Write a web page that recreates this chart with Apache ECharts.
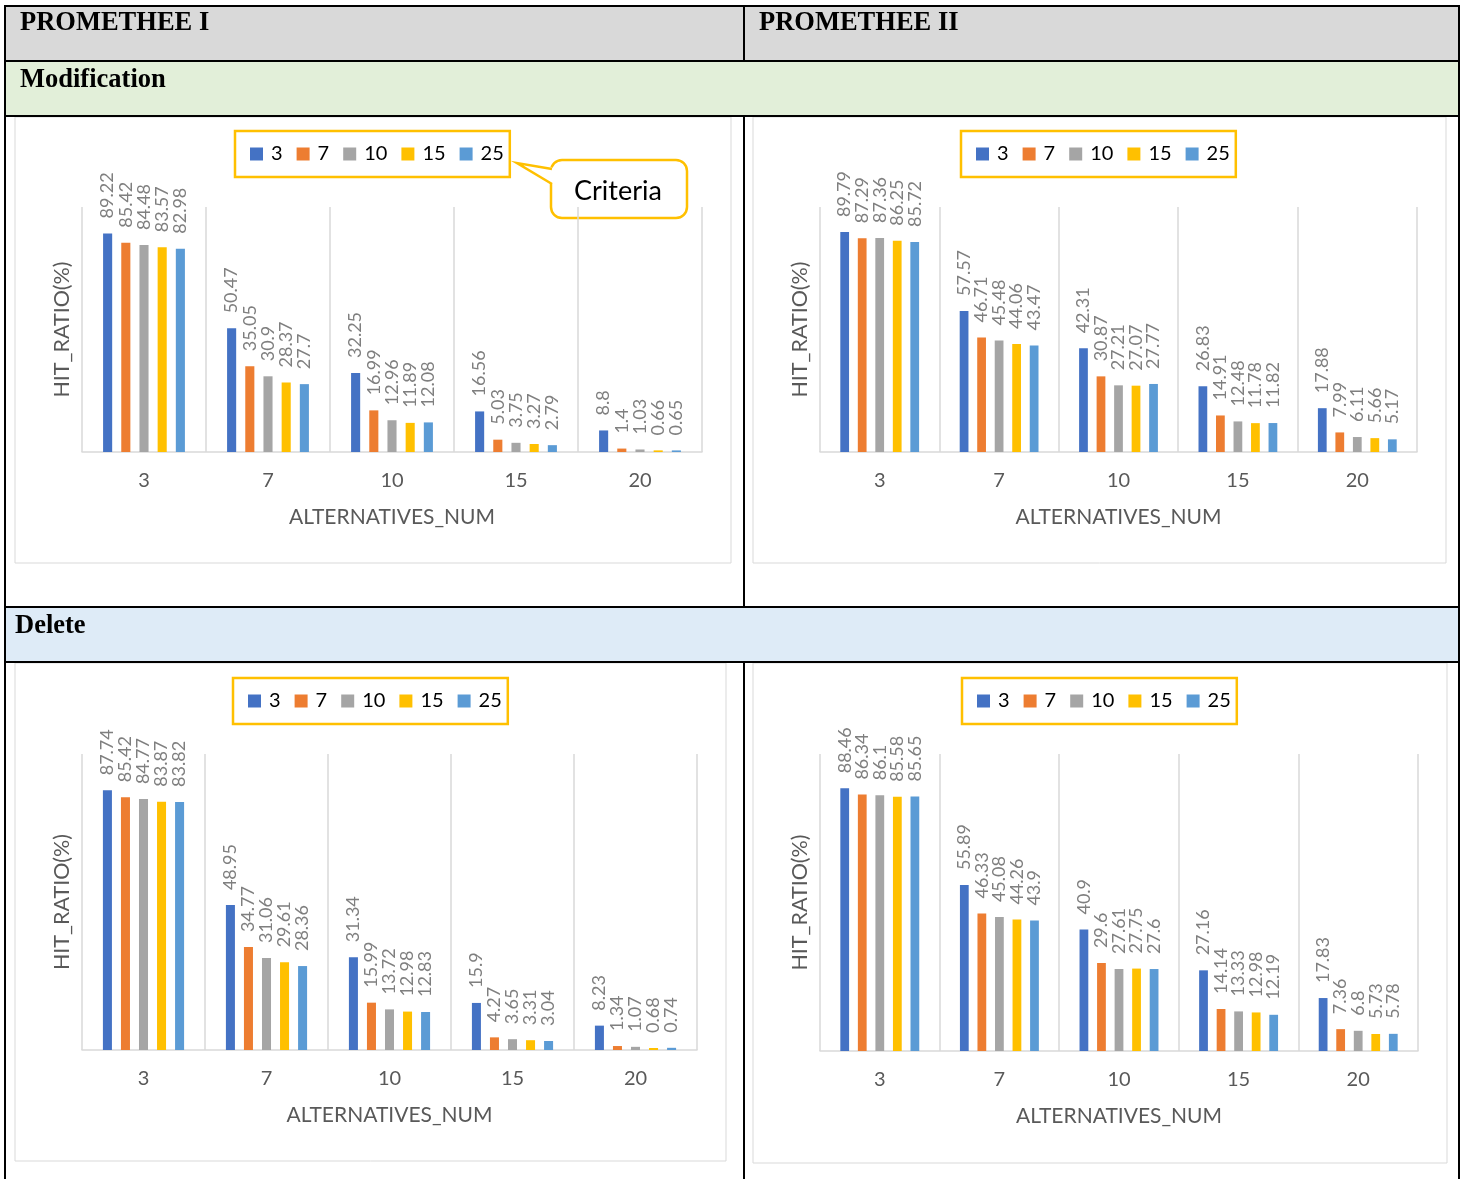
<!DOCTYPE html>
<html>
<head>
<meta charset="utf-8">
<script src="https://cdn.jsdelivr.net/npm/echarts@6/dist/echarts.min.js"></script>
<style>
  html, body { margin: 0; padding: 0; background: #ffffff; }
  #chart { width: 1465px; height: 1179px; }
</style>
</head>
<body>
<div id="chart"></div>
<script>
// Alternative counts on the x axis and criteria counts (one series each)
const categories = ['3', '7', '10', '15', '20'];
const criteria = ['3', '7', '10', '15', '25'];

// PROMETHEE I – Modification (hit ratio %, one array per criteria count)
const p1Mod3  = [89.22, 50.47, 32.25, 16.56, 8.8];
const p1Mod7  = [85.42, 35.05, 16.99, 5.03, 1.4];
const p1Mod10 = [84.48, 30.9, 12.96, 3.75, 1.03];
const p1Mod15 = [83.57, 28.37, 11.89, 3.27, 0.66];
const p1Mod25 = [82.98, 27.7, 12.08, 2.79, 0.65];

// PROMETHEE II – Modification
const p2Mod3  = [89.79, 57.57, 42.31, 26.83, 17.88];
const p2Mod7  = [87.29, 46.71, 30.87, 14.91, 7.99];
const p2Mod10 = [87.36, 45.48, 27.21, 12.48, 6.11];
const p2Mod15 = [86.25, 44.06, 27.07, 11.78, 5.66];
const p2Mod25 = [85.72, 43.47, 27.77, 11.82, 5.17];

// PROMETHEE I – Delete
const p1Del3  = [87.74, 48.95, 31.34, 15.9, 8.23];
const p1Del7  = [85.42, 34.77, 15.99, 4.27, 1.34];
const p1Del10 = [84.77, 31.06, 13.72, 3.65, 1.07];
const p1Del15 = [83.87, 29.61, 12.98, 3.31, 0.68];
const p1Del25 = [83.82, 28.36, 12.83, 3.04, 0.74];

// PROMETHEE II – Delete
const p2Del3  = [88.46, 55.89, 40.9, 27.16, 17.83];
const p2Del7  = [86.34, 46.33, 29.6, 14.14, 7.36];
const p2Del10 = [86.1, 45.08, 27.61, 13.33, 6.8];
const p2Del15 = [85.58, 44.26, 27.75, 12.98, 5.73];
const p2Del25 = [85.65, 43.9, 27.6, 12.19, 5.78];

const palette = ['#4472c4', '#ed7d31', '#a5a5a5', '#ffc000', '#5b9bd5'];
const FONT = 'Lato';
const SERIF = '"Liberation Serif", "Times New Roman", serif';

const panels = [
  { grid: { left: 82, top: 207, width: 620, height: 245 }, legend: { left: 235, top: 131 },
    data: [p1Mod3, p1Mod7, p1Mod10, p1Mod15, p1Mod25] },
  { grid: { left: 820, top: 207, width: 597, height: 245 }, legend: { left: 961, top: 131 },
    data: [p2Mod3, p2Mod7, p2Mod10, p2Mod15, p2Mod25] },
  { grid: { left: 82, top: 754, width: 615, height: 296 }, legend: { left: 233, top: 678 },
    data: [p1Del3, p1Del7, p1Del10, p1Del15, p1Del25] },
  { grid: { left: 820, top: 754, width: 598, height: 297 }, legend: { left: 962, top: 678 },
    data: [p2Del3, p2Del7, p2Del10, p2Del15, p2Del25] }
];

const grids = [], xAxes = [], yAxes = [], legends = [], series = [];

panels.forEach((p, i) => {
  grids.push(Object.assign({ containLabel: false }, p.grid));
  legends.push({
    left: p.legend.left, top: p.legend.top,
    orient: 'horizontal', icon: 'rect',
    itemWidth: 13, itemHeight: 13, itemGap: 14,
    data: criteria,
    selectedMode: false,
    borderColor: '#ffc000', borderWidth: 2.5,
    padding: [13, 6, 13, 15],
    textStyle: { fontFamily: FONT, fontSize: 20, color: '#000000', padding: [0, 0, 0, 3] }
  });
  xAxes.push({
    type: 'category', gridIndex: i, data: categories,
    axisLine: { lineStyle: { color: '#d9d9d9', width: 1.5 } },
    axisTick: { show: false },
    splitLine: { show: true, lineStyle: { color: '#d9d9d9', width: 1.5 } },
    axisLabel: { color: '#595959', fontFamily: FONT, fontSize: 20, margin: 19 },
    name: 'ALTERNATIVES_NUM', nameLocation: 'middle', nameGap: 55,
    nameTextStyle: { color: '#595959', fontFamily: FONT, fontSize: 21 }
  });
  yAxes.push({
    type: 'value', gridIndex: i, min: 0, max: 100,
    axisLabel: { show: false }, axisLine: { show: false },
    axisTick: { show: false }, splitLine: { show: false },
    name: 'HIT_RATIO(%)', nameLocation: 'middle', nameGap: 9, nameRotate: 90,
    nameTextStyle: { color: '#595959', fontFamily: FONT, fontSize: 21.5 }
  });
  p.data.forEach((values, k) => {
    series.push({
      type: 'bar', name: criteria[k],
      xAxisIndex: i, yAxisIndex: i,
      data: values,
      barGap: '100%', barCategoryGap: '34%',
      itemStyle: { color: palette[k] },
      label: {
        show: true, position: 'top', rotate: 90,
        align: 'left', verticalAlign: 'middle', distance: 15,
        color: '#7f7f7f', fontFamily: FONT, fontSize: 18
      }
    });
  });
});

// Table frame, row bands, headings and the chart boxes
const line = (x1, y1, x2, y2) => ({
  type: 'line', silent: true,
  shape: { x1, y1, x2, y2 },
  style: { stroke: '#000000', lineWidth: 2 }
});
const band = (y, h, fill) => ({
  type: 'rect', silent: true, shape: { x: 5, y, width: 1454, height: h }, style: { fill }
});
const box = (x, y, w, h) => ({
  type: 'rect', silent: true, shape: { x, y, width: w, height: h },
  style: { fill: null, stroke: '#d9d9d9', lineWidth: 1 }
});
const heading = (x, y, t) => ({
  type: 'text', silent: true, x, y,
  style: { text: t, fontFamily: SERIF, fontWeight: 'bold', fontSize: 26.5, fill: '#000000',
           textAlign: 'left', textVerticalAlign: 'middle' }
});

const graphics = [
  band(6, 55, '#d9d9d9'),
  band(61, 55, '#e2efd9'),
  band(607, 55, '#deebf7'),
  box(15, 117, 716, 446),
  box(753, 117, 693, 446),
  box(15, 663, 711, 498),
  box(753, 663, 694, 500),
  line(5, 6, 1459, 6),
  line(5, 5, 5, 1179),
  line(1459, 5, 1459, 1179),
  line(5, 61, 1459, 61),
  line(5, 116, 1459, 116),
  line(5, 607, 1459, 607),
  line(5, 662, 1459, 662),
  line(744, 6, 744, 61),
  line(744, 116, 744, 607),
  line(744, 662, 744, 1179),
  heading(20, 23, 'PROMETHEE I'),
  heading(759, 23, 'PROMETHEE II'),
  heading(20, 80, 'Modification'),
  heading(15, 626, 'Delete'),
  // "Criteria" callout pointing at the legend
  {
    type: 'rect', silent: true,
    shape: { x: 551, y: 160, width: 136, height: 58, r: 11 },
    style: { fill: '#ffffff', stroke: '#ffc000', lineWidth: 2.5 }
  },
  {
    type: 'polygon', silent: true,
    shape: { points: [[518, 163], [555, 168], [555, 185]] },
    style: { fill: '#ffffff' }
  },
  {
    type: 'polyline', silent: true,
    shape: { points: [[552, 169], [517, 163], [552, 184]] },
    style: { stroke: '#ffc000', lineWidth: 2.5, fill: null }
  },
  {
    type: 'text', silent: true, x: 618, y: 191,
    style: { text: 'Criteria', fontFamily: FONT, fontSize: 27, fill: '#000000',
             textAlign: 'center', textVerticalAlign: 'middle' }
  }
];

const chart = echarts.init(document.getElementById('chart'), null, { renderer: 'canvas' });
chart.setOption({
  animation: false,
  backgroundColor: '#ffffff',
  grid: grids,
  xAxis: xAxes,
  yAxis: yAxes,
  legend: legends,
  series: series,
  graphic: graphics
});
</script>
</body>
</html>
